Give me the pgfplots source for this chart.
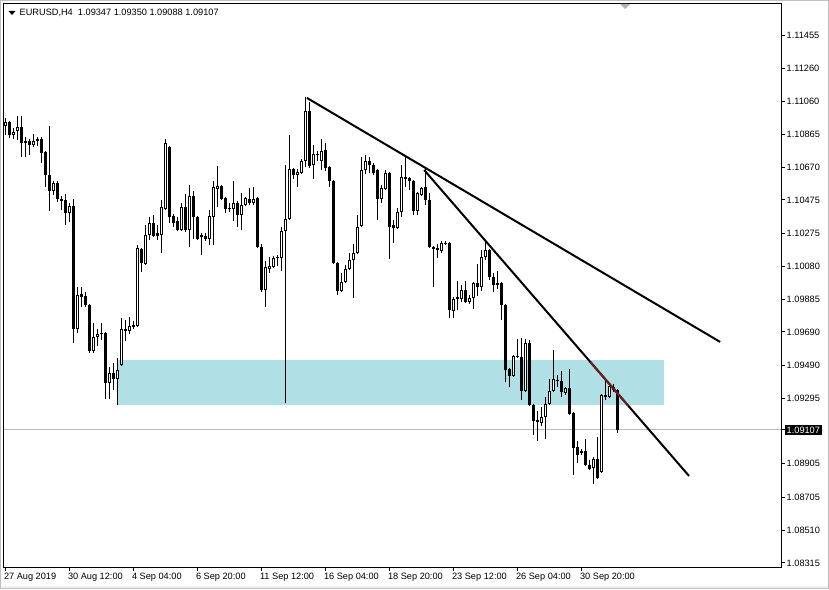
\documentclass[border=0pt]{standalone}
\usepackage{pgfplots}
\pgfplotsset{compat=1.18}
\usepackage{pgfplotstable}
\usepackage{fontspec}
\setmainfont{Liberation Sans}

\definecolor{zone}{RGB}{176,224,230}
\definecolor{touch}{RGB}{110,30,30}

% EURUSD H4 candles: bar index, open, high, low, close
\pgfplotstableread{
i o h l c
0 1.10915 1.10963 1.10862 1.10939
1 1.10939 1.10945 1.10844 1.10862
2 1.10862 1.10903 1.10838 1.10880
3 1.10886 1.10975 1.10832 1.10909
4 1.10909 1.10975 1.10731 1.10814
5 1.10814 1.10850 1.10731 1.10826
6 1.10826 1.10838 1.10743 1.10802
7 1.10802 1.10868 1.10790 1.10826
8 1.10826 1.10850 1.10796 1.10838
9 1.10838 1.10850 1.10695 1.10755
10 1.10761 1.10767 1.10552 1.10624
11 1.10624 1.10915 1.10410 1.10529
12 1.10529 1.10588 1.10505 1.10576
13 1.10576 1.10588 1.10463 1.10481
14 1.10481 1.10499 1.10415 1.10469
15 1.10475 1.10511 1.10326 1.10398
16 1.10398 1.10457 1.10344 1.10439
17 1.10439 1.10481 1.09624 1.09707
18 1.09707 1.09957 1.09684 1.09910
19 1.09916 1.09957 1.09838 1.09898
20 1.09904 1.09928 1.09838 1.09850
21 1.09850 1.09856 1.09565 1.09577
22 1.09577 1.09743 1.09565 1.09660
23 1.09660 1.09707 1.09606 1.09678
24 1.09684 1.09743 1.09642 1.09678
25 1.09684 1.09690 1.09291 1.09386
26 1.09386 1.09481 1.09291 1.09446
27 1.09446 1.09505 1.09344 1.09410
28 1.09410 1.09535 1.09255 1.09463
29 1.09493 1.09773 1.09487 1.09707
30 1.09696 1.09761 1.09636 1.09707
31 1.09696 1.09779 1.09678 1.09725
32 1.09731 1.09755 1.09707 1.09719
33 1.09725 1.10207 1.09719 1.10189
34 1.10183 1.10189 1.10047 1.10100
35 1.10094 1.10326 1.10088 1.10267
36 1.10267 1.10374 1.10237 1.10338
37 1.10338 1.10386 1.10255 1.10261
38 1.10279 1.10326 1.10237 1.10261
39 1.10267 1.10475 1.10160 1.10433
40 1.10421 1.10838 1.10415 1.10814
41 1.10790 1.10796 1.10338 1.10374
42 1.10380 1.10392 1.10314 1.10338
43 1.10350 1.10374 1.10291 1.10296
44 1.10296 1.10457 1.10291 1.10433
45 1.10433 1.10511 1.10285 1.10296
46 1.10296 1.10564 1.10195 1.10499
47 1.10499 1.10529 1.10243 1.10374
48 1.10374 1.10380 1.10237 1.10243
49 1.10267 1.10279 1.10148 1.10255
50 1.10261 1.10279 1.10231 1.10243
51 1.10243 1.10415 1.10207 1.10380
52 1.10374 1.10588 1.10207 1.10552
53 1.10540 1.10677 1.10433 1.10558
54 1.10558 1.10564 1.10475 1.10481
55 1.10487 1.10493 1.10398 1.10421
56 1.10427 1.10457 1.10404 1.10421
57 1.10421 1.10588 1.10350 1.10457
58 1.10457 1.10469 1.10314 1.10386
59 1.10386 1.10517 1.10296 1.10445
60 1.10445 1.10493 1.10439 1.10487
61 1.10481 1.10546 1.10445 1.10457
62 1.10457 1.10552 1.10445 1.10481
63 1.10487 1.10493 1.10189 1.10195
64 1.10195 1.10213 1.09928 1.09939
65 1.09939 1.10112 1.09838 1.10076
66 1.10064 1.10136 1.10041 1.10082
67 1.10076 1.10142 1.10070 1.10130
68 1.10130 1.10148 1.10082 1.10136
69 1.10130 1.10314 1.10053 1.10291
70 1.10291 1.10683 1.09267 1.10362
71 1.10362 1.10862 1.10356 1.10659
72 1.10659 1.10665 1.10600 1.10624
73 1.10624 1.10659 1.10552 1.10642
74 1.10636 1.10719 1.10630 1.10707
75 1.10707 1.11088 1.10671 1.11005
76 1.11005 1.11058 1.10665 1.10677
77 1.10683 1.10802 1.10600 1.10749
78 1.10743 1.10767 1.10707 1.10749
79 1.10707 1.10838 1.10653 1.10767
80 1.10772 1.10814 1.10648 1.10665
81 1.10671 1.10677 1.10552 1.10588
82 1.10588 1.10594 1.10094 1.10100
83 1.10100 1.10106 1.09910 1.09934
84 1.09934 1.10041 1.09928 1.09987
85 1.09987 1.10088 1.09981 1.10064
86 1.10064 1.10160 1.10058 1.10118
87 1.10118 1.10213 1.09892 1.10160
88 1.10160 1.10386 1.10154 1.10314
89 1.10320 1.10731 1.10314 1.10653
90 1.10653 1.10743 1.10630 1.10707
91 1.10707 1.10731 1.10636 1.10683
92 1.10683 1.10695 1.10624 1.10636
93 1.10653 1.10659 1.10356 1.10481
94 1.10481 1.10564 1.10457 1.10546
95 1.10540 1.10653 1.10534 1.10636
96 1.10636 1.10642 1.10124 1.10314
97 1.10326 1.10356 1.10219 1.10308
98 1.10308 1.10427 1.10302 1.10404
99 1.10404 1.10683 1.10374 1.10612
100 1.10600 1.10731 1.10552 1.10612
101 1.10606 1.10612 1.10534 1.10588
102 1.10588 1.10594 1.10386 1.10410
103 1.10410 1.10523 1.10386 1.10517
104 1.10505 1.10552 1.10499 1.10546
105 1.10552 1.10659 1.10445 1.10475
106 1.10475 1.10517 1.10189 1.10195
107 1.10195 1.10201 1.09957 1.10183
108 1.10177 1.10213 1.10130 1.10189
109 1.10172 1.10231 1.10160 1.10219
110 1.10219 1.10231 1.10207 1.10213
111 1.10219 1.10225 1.09773 1.09820
112 1.09815 1.09898 1.09773 1.09886
113 1.09886 1.09993 1.09820 1.09898
114 1.09886 1.09969 1.09868 1.09939
115 1.09939 1.09993 1.09862 1.09868
116 1.09868 1.09910 1.09856 1.09892
117 1.09892 1.09987 1.09826 1.09981
118 1.09981 1.10094 1.09904 1.09957
119 1.09957 1.10177 1.09934 1.10136
120 1.10136 1.10231 1.10118 1.10177
121 1.10177 1.10183 1.09999 1.10017
122 1.10017 1.10041 1.09928 1.09969
123 1.09981 1.10053 1.09945 1.09969
124 1.09981 1.09987 1.09761 1.09850
125 1.09850 1.09856 1.09392 1.09463
126 1.09469 1.09475 1.09362 1.09428
127 1.09428 1.09553 1.09422 1.09547
128 1.09541 1.09648 1.09535 1.09547
129 1.09541 1.09654 1.09285 1.09339
130 1.09339 1.09648 1.09333 1.09624
131 1.09624 1.09642 1.09249 1.09255
132 1.09255 1.09261 1.09077 1.09160
133 1.09166 1.09220 1.09041 1.09154
134 1.09148 1.09243 1.09130 1.09184
135 1.09184 1.09303 1.09053 1.09261
136 1.09261 1.09410 1.09255 1.09339
137 1.09339 1.09582 1.09333 1.09410
138 1.09404 1.09434 1.09362 1.09398
139 1.09398 1.09458 1.09303 1.09333
140 1.09327 1.09362 1.09315 1.09356
141 1.09356 1.09469 1.09196 1.09202
142 1.09208 1.09214 1.08839 1.08999
143 1.09005 1.09041 1.08910 1.08958
144 1.08970 1.08993 1.08958 1.08982
145 1.08982 1.09053 1.08892 1.08898
146 1.08898 1.08928 1.08868 1.08874
147 1.08880 1.08946 1.08785 1.08934
148 1.08934 1.09065 1.08815 1.08821
149 1.08857 1.09321 1.08851 1.09315
150 1.09315 1.09416 1.09285 1.09303
151 1.09303 1.09386 1.09297 1.09368
152 1.09362 1.09380 1.09333 1.09344
153 1.09347 1.09350 1.09088 1.09107
}\candles

\begin{document}
\begin{tikzpicture}[x=1pt,y=1pt]
\fill[white] (0,0) rectangle (829,589);
\draw[black!25, line width=1pt] (0.5,0.5) rectangle (828.5,588.5);
\fill[black!6] (1,1) rectangle (828,3);

\begin{axis}[
  at={(4pt,22pt)}, anchor=south west,
  scale only axis, width=777pt, height=563pt,
  xmin=-0.33, xmax=193.9, ymin=1.08291, ymax=1.11641,
  axis line style={line width=1pt},
  tick align=outside, major tick length=4pt,
  tick style={black, line width=1pt},
  xtick pos=left, ytick pos=right, yticklabel pos=right,
  tick label style={font=\fontsize{9.2}{11}\selectfont},
  xtick={0,16,...,144},
  xticklabels={27 Aug 2019,30 Aug 12:00,4 Sep 04:00,6 Sep 20:00,11 Sep 12:00,16 Sep 04:00,18 Sep 20:00,23 Sep 12:00,26 Sep 04:00,30 Sep 20:00},
  xticklabel style={anchor=north west, inner sep=0pt, xshift=-1.5pt, yshift=-1.5pt},
  ytick={1.11455,1.11260,1.11060,1.10865,1.10670,1.10475,1.10275,1.10080,1.09885,1.09690,1.09490,1.09295,1.08905,1.08705,1.08510,1.08315},
  yticklabels={1.11455,1.11260,1.11060,1.10865,1.10670,1.10475,1.10275,1.10080,1.09885,1.09690,1.09490,1.09295,1.08905,1.08705,1.08510,1.08315},
  yticklabel style={anchor=west, inner sep=0pt, xshift=1.5pt},
  extra y ticks={1.09107},
  extra y tick labels={1.09107},
  extra y tick style={grid=major, major grid style={black!28, line width=1pt},
    yticklabel style={fill=black, text=white, inner xsep=2pt, inner ysep=2pt, xshift=-2pt}},
]
% support zone
\addplot[fill=zone, draw=none, forget plot] coordinates {(28.2,1.09255) (164.7,1.09255) (164.7,1.09523) (28.2,1.09523)};

% wicks
\addplot[draw=none, forget plot, error bars/.cd, y dir=plus, y explicit, error mark=none,
  error bar style={draw=black, line width=1pt}]
  table[x=i, y=l, y error expr=\thisrow{h}-\thisrow{l}] {\candles};
% bearish bodies
\addplot[draw=none, forget plot, restrict expr to domain={\thisrow{c}-\thisrow{o}}{-1:0},
  error bars/.cd, y dir=plus, y explicit, error mark=none,
  error bar style={draw=black, line width=3pt}]
  table[x=i, y=c, y error expr=\thisrow{o}-\thisrow{c}] {\candles};
% bullish bodies: outline, then white inside
\addplot[draw=none, forget plot, restrict expr to domain={\thisrow{c}-\thisrow{o}}{0:1},
  error bars/.cd, y dir=plus, y explicit, error mark=none,
  error bar style={draw=black, line width=3pt}]
  table[x=i, y=o, y error expr=\thisrow{c}-\thisrow{o}] {\candles};
\addplot[draw=none, forget plot, restrict expr to domain={\thisrow{c}-\thisrow{o}}{0.00015:1},
  error bars/.cd, y dir=plus, y explicit, error mark=none,
  error bar style={draw=white, line width=1pt, shorten <=1pt, shorten >=1pt}]
  table[x=i, y=o, y error expr=\thisrow{c}-\thisrow{o}] {\candles};

% trend lines
\addplot[black, line width=2pt] coordinates {(75.4,1.11082) (178.7,1.09630)};
\addplot[black, line width=2pt] coordinates {(104.7,1.10653) (170.9,1.08833)};
\addplot[touch, line width=2pt] coordinates {(146.2,1.09512) (155.7,1.09251)};
\end{axis}

\fill[black] (8.5,578) -- (15.5,578) -- (12,574) -- cycle;
\node[anchor=west, inner sep=0pt, font=\fontsize{9.2}{11}\selectfont] at (19.5,576.3)
  {EURUSD,H4\ \ 1.09347 1.09350 1.09088 1.09107};
\fill[black!30] (620,585) -- (630,585) -- (625,580) -- cycle;

\pgfresetboundingbox
\path (0,0) rectangle (829,589);
\end{tikzpicture}
\end{document}
